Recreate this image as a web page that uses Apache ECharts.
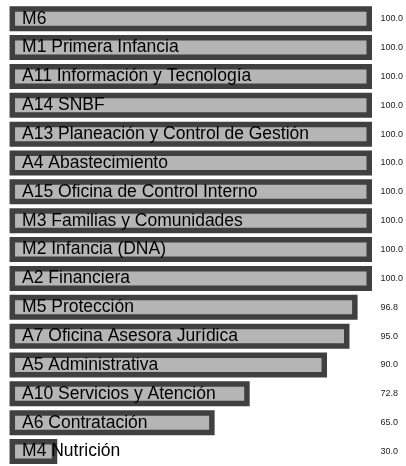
<!DOCTYPE html>
<html>
<head>
<meta charset="utf-8">
<script src="https://cdn.jsdelivr.net/npm/echarts@6/dist/echarts.min.js"></script>
<style>html,body{margin:0;padding:0;background:#fff}#c{width:406px;height:466px}</style>
</head>
<body>
<div id="c"></div>
<script>
const categories = [
  "M6",
  "M1 Primera Infancia",
  "A11 Información y Tecnología",
  "A14 SNBF",
  "A13 Planeación y Control de Gestión",
  "A4 Abastecimiento",
  "A15 Oficina de Control Interno",
  "M3 Familias y Comunidades",
  "M2 Infancia (DNA)",
  "A2 Financiera",
  "M5 Protección",
  "A7 Oficina Asesora Jurídica",
  "A5 Administrativa",
  "A10 Servicios y Atención",
  "A6 Contratación",
  "M4 Nutrición"
];
const values = [100.0, 100.0, 100.0, 100.0, 100.0, 100.0, 100.0, 100.0, 100.0, 100.0, 96.8, 95.0, 90.0, 72.8, 65.0, 30.0];
const valueLabels = values.map(v => v.toFixed(1));

const chart = echarts.init(document.getElementById('c'), null, {renderer: 'canvas'});
chart.setOption({
  animation: false,
  grid: {left: 12.3, right: 32.7, top: 4.3, height: 464, containLabel: false},
  xAxis: {type: 'value', min: 20, max: 100, show: false},
  yAxis: [
    {type: 'category', data: categories, inverse: true, show: false},
    {type: 'category', data: valueLabels, inverse: true, position: 'right',
     axisLine: {show: false}, axisTick: {show: false}, splitLine: {show: false},
     axisLabel: {margin: 8.5, fontSize: 9, color: '#222', fontFamily: 'Liberation Sans, Arial, sans-serif', align: 'left', padding: [2, 0, 0, 0]}}
  ],
  series: [{
    type: 'bar',
    data: values,
    yAxisIndex: 0,
    barWidth: 25,
    itemStyle: {color: '#b5b5b5', borderColor: '#404040', borderWidth: 5.5},
    label: {
      show: true,
      position: 'insideLeft',
      distance: 12.5,
      formatter: p => categories[p.dataIndex],
      fontSize: 17.5,
      color: '#000',
      textBorderWidth: 0,
      padding: [2, 0, 0, 0],
      fontFamily: 'Liberation Sans, Arial, sans-serif'
    }
  }]
});
</script>
</body>
</html>
